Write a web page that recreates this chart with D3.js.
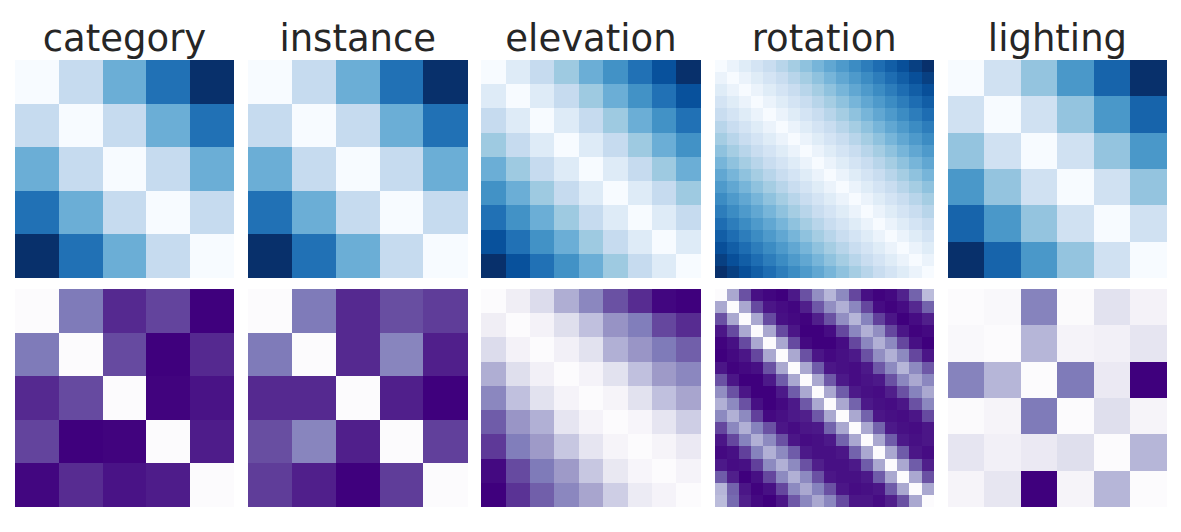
<!DOCTYPE html>
<html>
<head>
<meta charset="utf-8">
<script src="https://cdn.jsdelivr.net/npm/d3@7"></script>
<style>
  body { margin: 0; background: #fff; }
  svg { display: block; }
  .title { font-family: "DejaVu Sans", sans-serif; font-size: 37px; fill: #262626; }
</style>
</head>
<body>
<svg width="1181" height="532"></svg>
<script>
// panel titles (one column each)
var titles = ["category", "instance", "elevation", "rotation", "lighting"];

// top row: distance between labels (Blues)
var catTop = [
  [0,1,2,3,4],
  [1,0,1,2,3],
  [2,1,0,1,2],
  [3,2,1,0,1],
  [4,3,2,1,0]
];
var instTop = [
  [0,1,2,3,4],
  [1,0,1,2,3],
  [2,1,0,1,2],
  [3,2,1,0,1],
  [4,3,2,1,0]
];
var elevTop = [
  [0,1,2,3,4,5,6,7,8],
  [1,0,1,2,3,4,5,6,7],
  [2,1,0,1,2,3,4,5,6],
  [3,2,1,0,1,2,3,4,5],
  [4,3,2,1,0,1,2,3,4],
  [5,4,3,2,1,0,1,2,3],
  [6,5,4,3,2,1,0,1,2],
  [7,6,5,4,3,2,1,0,1],
  [8,7,6,5,4,3,2,1,0]
];
var rotTop = [
  [0,1,2,3,4,5,6,7,8,9,10,11,12,13,14,15,16,17],
  [1,0,1,2,3,4,5,6,7,8,9,10,11,12,13,14,15,16],
  [2,1,0,1,2,3,4,5,6,7,8,9,10,11,12,13,14,15],
  [3,2,1,0,1,2,3,4,5,6,7,8,9,10,11,12,13,14],
  [4,3,2,1,0,1,2,3,4,5,6,7,8,9,10,11,12,13],
  [5,4,3,2,1,0,1,2,3,4,5,6,7,8,9,10,11,12],
  [6,5,4,3,2,1,0,1,2,3,4,5,6,7,8,9,10,11],
  [7,6,5,4,3,2,1,0,1,2,3,4,5,6,7,8,9,10],
  [8,7,6,5,4,3,2,1,0,1,2,3,4,5,6,7,8,9],
  [9,8,7,6,5,4,3,2,1,0,1,2,3,4,5,6,7,8],
  [10,9,8,7,6,5,4,3,2,1,0,1,2,3,4,5,6,7],
  [11,10,9,8,7,6,5,4,3,2,1,0,1,2,3,4,5,6],
  [12,11,10,9,8,7,6,5,4,3,2,1,0,1,2,3,4,5],
  [13,12,11,10,9,8,7,6,5,4,3,2,1,0,1,2,3,4],
  [14,13,12,11,10,9,8,7,6,5,4,3,2,1,0,1,2,3],
  [15,14,13,12,11,10,9,8,7,6,5,4,3,2,1,0,1,2],
  [16,15,14,13,12,11,10,9,8,7,6,5,4,3,2,1,0,1],
  [17,16,15,14,13,12,11,10,9,8,7,6,5,4,3,2,1,0]
];
var lightTop = [
  [0,1,2,3,4,5],
  [1,0,1,2,3,4],
  [2,1,0,1,2,3],
  [3,2,1,0,1,2],
  [4,3,2,1,0,1],
  [5,4,3,2,1,0]
];

// bottom row: measured dissimilarities (Purples)
var catBottom = [
  [0, .63, .87, .79, 1.0],
  [.63, 0, .77, 1.0, .87],
  [.87, .77, 0, .99, .94],
  [.79, 1.0, .99, 0, .91],
  [.98, .86, .94, .91, 0]
];
var instBottom = [
  [0, .63, .87, .76, .81],
  [.63, 0, .87, .59, .9],
  [.87, .87, 0, .9, 1.0],
  [.76, .59, .9, 0, .8],
  [.81, .9, 1.0, .81, 0]
];
var elevBottom = [
  [0, .12, .24, .43, .58, .75, .86, .98, 1.0],
  [.12, 0, .08, .22, .36, .53, .62, .78, .86],
  [.24, .08, 0, .1, .2, .42, .52, .63, .71],
  [.43, .22, .1, 0, .07, .2, .36, .5, .58],
  [.58, .36, .2, .07, 0, .06, .2, .36, .46],
  [.72, .52, .42, .18, .07, 0, .05, .18, .3],
  [.82, .62, .5, .33, .18, .06, 0, .06, .15],
  [.97, .77, .63, .5, .33, .16, .05, 0, .07],
  [1.0, .84, .71, .58, .46, .3, .14, .07, 0]
];
var rotBottom = [
  [0,.45,.75,.95,.98,1.0,.92,.75,.55,.4,.57,.78,.95,.99,.97,.89,.7,.38],
  [.45,0,.45,.77,.93,.96,.98,.9,.73,.55,.42,.58,.78,.96,.99,.96,.87,.7],
  [.75,.45,0,.45,.77,.95,.97,.99,.9,.75,.55,.4,.6,.8,.93,1.0,.96,.9],
  [.93,.77,.45,0,.45,.77,.93,1.0,1.0,.96,.78,.58,.42,.55,.78,.93,.99,.97],
  [.99,.95,.77,.45,0,.45,.77,.97,1.0,1.0,.96,.78,.58,.42,.57,.78,.95,1.0],
  [1.0,.97,.93,.78,.45,0,.45,.75,.93,.97,.95,.92,.75,.55,.42,.57,.78,.93],
  [.93,.99,.97,.95,.75,.45,0,.45,.72,.93,.95,.96,.92,.73,.57,.4,.57,.73],
  [.75,.93,1.0,1.0,.92,.72,.45,0,.45,.73,.92,.96,.94,.92,.75,.58,.45,.58],
  [.55,.75,.93,1.0,1.0,.92,.72,.45,0,.45,.72,.92,.95,.96,.9,.75,.6,.45],
  [.42,.57,.75,.95,1.0,.97,.92,.73,.45,0,.45,.7,.92,.95,.96,.93,.75,.58],
  [.57,.42,.57,.8,.97,.95,.92,.9,.73,.45,0,.45,.7,.93,.95,.96,.93,.77],
  [.78,.58,.42,.6,.75,.93,.96,.93,.92,.7,.45,0,.45,.7,.92,.95,.96,.93],
  [.93,.78,.6,.42,.57,.75,.93,.96,.95,.92,.7,.45,0,.45,.72,.92,.95,.93],
  [.97,.95,.8,.6,.42,.57,.72,.92,.95,.95,.93,.7,.45,0,.45,.72,.93,.96],
  [.92,.96,.95,.8,.57,.42,.57,.75,.9,.95,.95,.92,.72,.45,0,.45,.72,.9],
  [.72,.9,1.0,.95,.78,.57,.42,.57,.75,.93,.95,.95,.92,.72,.45,0,.45,.75],
  [.4,.7,.93,.99,.95,.78,.57,.45,.6,.75,.93,.96,.95,.93,.72,.45,0,.45],
  [.38,.68,.9,.97,1.0,.93,.73,.58,.45,.58,.77,.93,.93,.96,.9,.75,.45,0]
];
var lightBottom = [
  [0, .03, .6, .01, .2, .08],
  [.03, 0, .4, .07, .1, .18],
  [.6, .4, 0, .63, .15, 1.0],
  [.01, .06, .63, 0, .22, .06],
  [.18, .1, .15, .22, 0, .4],
  [.06, .17, 1.0, .06, .4, 0]
];

var rows = [
  { scheme: d3.schemeBlues[9], mats: [catTop, instTop, elevTop, rotTop, lightTop] },
  { scheme: d3.schemePurples[9], mats: [catBottom, instBottom, elevBottom, rotBottom, lightBottom] }
];

var svg = d3.select("svg");

// panel grid
var xPanel = d3.scaleBand().domain(titles).range([15, 1167]).paddingInner(0.061);
var yPanel = d3.scaleBand().domain([0, 1]).range([60, 507]).paddingInner(0.047);

// titles
svg.selectAll("text.title")
  .data(titles)
  .enter().append("text")
    .attr("class", "title")
    .attr("x", function(d) { return xPanel(d) + xPanel.bandwidth() / 2; })
    .attr("y", 51)
    .attr("text-anchor", "middle")
    .text(function(d) { return d; });

rows.forEach(function(row, r) {
  row.mats.forEach(function(mat, c) {
    var n = mat.length;
    var ext = d3.extent(d3.merge(mat));
    // matplotlib style linear colormap through the 9 brewer colours
    var color = d3.scaleLinear()
      .domain(d3.range(9).map(function(i) { return ext[0] + (ext[1] - ext[0]) * i / 8; }))
      .range(row.scheme)
      .interpolate(d3.interpolateRgb);

    var cx = d3.scaleBand().domain(d3.range(n)).range([0, xPanel.bandwidth()]);
    var cy = d3.scaleBand().domain(d3.range(n)).range([0, yPanel.bandwidth()]);

    var g = svg.append("g")
      .attr("transform", "translate(" + xPanel(titles[c]) + "," + yPanel(r) + ")");

    var cells = [];
    mat.forEach(function(vals, i) {
      vals.forEach(function(v, j) { cells.push({ i: i, j: j, v: v }); });
    });

    g.selectAll("rect")
      .data(cells)
      .enter().append("rect")
        .attr("x", function(d) { return cx(d.j); })
        .attr("y", function(d) { return cy(d.i); })
        .attr("width", cx.bandwidth() + 0.3)
        .attr("height", cy.bandwidth() + 0.3)
        .attr("shape-rendering", "crispEdges")
        .attr("fill", function(d) { return color(d.v); });
  });
});
</script>
</body>
</html>
